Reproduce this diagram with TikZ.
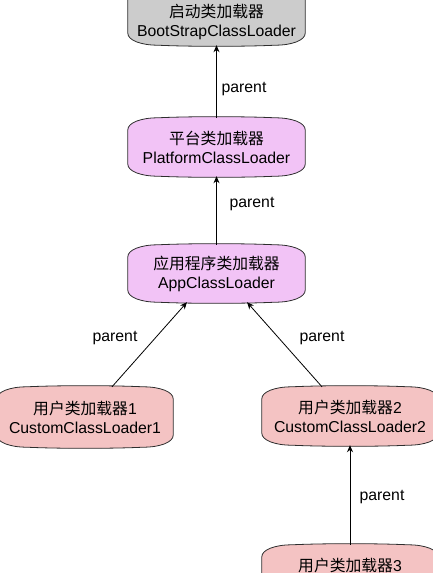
\documentclass[tikz,border=0pt]{standalone}
\usepackage{fontspec}
\setmainfont{Liberation Sans}
\newfontfamily\cjk{Noto Sans CJK SC}
\usetikzlibrary{calc,backgrounds,arrows.meta}
\definecolor{grayfill}{HTML}{CCCCCC}
\definecolor{violetfill}{HTML}{F2C3F6}
\definecolor{pinkfill}{HTML}{F4C3C3}
\definecolor{edgecol}{HTML}{2E2E2E}

\newcommand\loaderbox[3]{% node name, fill, top extension
 \begin{pgfonlayer}{background}
 \path[draw=edgecol, line width=0.8pt, fill=#2]
  let \p1=(#1.south west), \p2=($(#1.north east)+(0pt,#3)$) in
  (\x1,\y2-12pt) .. controls (\x1,\y2-5pt) and (\x1+13pt,\y2) .. (\x1+30pt,\y2)
  .. controls (\x1+62pt,\y2+1.5pt) and (\x2-62pt,\y2+1.5pt) .. (\x2-30pt,\y2)
  .. controls (\x2-13pt,\y2) and (\x2,\y2-5pt) .. (\x2,\y2-12pt)
  -- (\x2,\y1+12pt) .. controls (\x2,\y1+5pt) and (\x2-13pt,\y1) .. (\x2-30pt,\y1)
  .. controls (\x2-62pt,\y1-1.5pt) and (\x1+62pt,\y1-1.5pt) .. (\x1+30pt,\y1)
  .. controls (\x1+13pt,\y1) and (\x1,\y1+5pt) .. (\x1,\y1+12pt) -- cycle;
 \end{pgfonlayer}}

\begin{document}
\begin{tikzpicture}[x=1pt,y=-1pt,
  loader/.style={inner sep=0pt, align=center, minimum width=177pt, minimum height=58pt,
    font=\fontsize{15.8pt}{19pt}\selectfont},
  lbl/.style={inner sep=0pt, font=\fontsize{15.8pt}{19pt}\selectfont},
  arr/.style={draw=black, line width=0.8pt, -{Stealth[length=7pt,width=6pt]}}]
\useasboundingbox (0,0) rectangle (433,573);

\node[loader, minimum height=47pt] (boot) at (216.5,21.5) {{\cjk 启动类加载器}\\BootStrapClassLoader};
\node[loader] (plat) at (216.5,147) {{\cjk 平台类加载器}\\PlatformClassLoader};
\node[loader, minimum height=57pt] (app) at (216.5,273.5) {{\cjk 应用程序类加载器}\\AppClassLoader};
\node[loader, minimum width=176pt, minimum height=60pt] (cu1) at (85,417) {{\cjk 用户类加载器}1\\CustomClassLoader1};
\node[loader, minimum width=176pt] (cu2) at (350,416) {{\cjk 用户类加载器}2\\CustomClassLoader2};
\node[loader, minimum width=176pt] (cu3) at (350,574) {{\cjk 用户类加载器}3\\CustomClassLoader3};

\loaderbox{boot}{grayfill}{12pt}
\loaderbox{plat}{violetfill}{0pt}
\loaderbox{app}{violetfill}{0pt}
\loaderbox{cu1}{pinkfill}{0pt}
\loaderbox{cu2}{pinkfill}{0pt}
\loaderbox{cu3}{pinkfill}{0pt}

\draw[arr] (plat.north) -- (boot.south);
\draw[arr] (app.north) -- (plat.south);
\draw[arr] ($(cu1.north)+(27,0)$) -- ($(app.south)+(-29.5,0)$);
\draw[arr] ($(cu2.north)+(-28,0)$) -- ($(app.south)+(30.5,0)$);
\draw[arr] (cu3.north) -- (cu2.south);

\node[lbl] (l1) at (244,89) {parent};
\node[lbl] (l2) at (252,204) {parent};
\node[lbl] (l3) at (115,338) {parent};
\node[lbl] (l4) at (322,338) {parent};
\node[lbl] (l5) at (382,497) {parent};
\end{tikzpicture}
\end{document}
